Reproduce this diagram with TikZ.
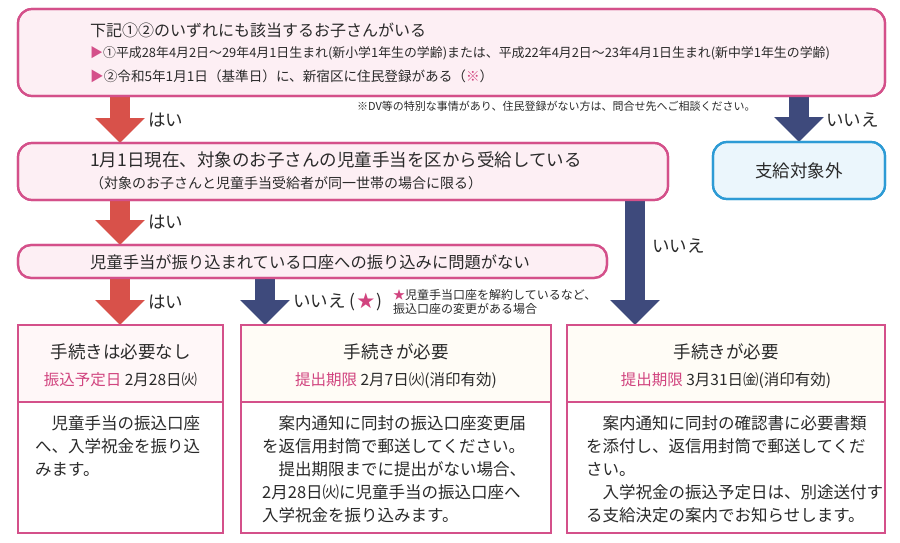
\documentclass[tikz,border=0pt]{standalone}
\usepackage{fontspec}
\setmainfont{Noto Sans CJK JP}
\usetikzlibrary{arrows.meta,calc}
\definecolor{pk}{HTML}{D4508A}
\definecolor{pkfill}{HTML}{FDEFF4}
\definecolor{pktext}{HTML}{D1447F}
\definecolor{redarr}{HTML}{D8514A}
\definecolor{navy}{HTML}{3E4A7C}
\definecolor{bl}{HTML}{2D9BD5}
\definecolor{blfill}{HTML}{EBF6FC}
\definecolor{hdA}{HTML}{FFF7F8}
\definecolor{hdB}{HTML}{FFFCF6}
\definecolor{tx}{HTML}{2A2A2A}
\newcommand\fsz[1]{\fontsize{#1}{#1}\selectfont}
\begin{document}
\begin{tikzpicture}[x=1pt,y=-1pt,
  box/.style={draw=pk, line width=2.2pt, anchor=north west, inner sep=0pt, outer sep=0pt},
  rbox/.style={box, rounded corners=14pt, fill=pkfill},
  txt/.style={anchor=west, inner sep=0pt, text=tx},
  ctxt/.style={anchor=center, inner sep=0pt, text=tx},
  lbl/.style={txt, font=\fsz{17.5}},
  body/.style={txt, font=\fsz{16.5}},
  arrowbase/.style={line width=20pt, -{Triangle[width=48pt,length=25pt]}},
  redar/.style={arrowbase, draw=redarr, fill=redarr},
  navyar/.style={arrowbase, draw=navy, fill=navy}
]
\useasboundingbox[fill=white] (0,0) rectangle (900,543);

% column coordinates for arrows
\coordinate (cx1) at (120,0);
\coordinate (cx2) at (265,0);
\coordinate (cx3) at (635,0);
\coordinate (cx4) at (799,0);

% boxes (shapes only)
\path (18,9) node[rbox, minimum width=867pt, minimum height=87pt] (b1) {};
\path (18,143) node[rbox, minimum width=650pt, minimum height=57pt] (b2) {};
\path (713,142) node[box, rounded corners=14pt, draw=bl, fill=blfill, minimum width=172pt, minimum height=57pt] (bx) {};
\path (18,245) node[rbox, rounded corners=13pt, minimum width=589pt, minimum height=33pt] (b3) {};

\path (18,325) node[box, fill=hdA, minimum width=205pt, minimum height=77pt] (hA) {};
\path (241,325) node[box, fill=hdB, minimum width=310pt, minimum height=77pt] (hB) {};
\path (567,325) node[box, fill=hdB, minimum width=318pt, minimum height=77pt] (hC) {};

% arrows
\draw[redar] (b1.south -| cx1) -- (b2.north -| cx1);
\draw[navyar] (b1.south -| cx4) -- (bx.north -| cx4);
\draw[redar] (b2.south -| cx1) -- (b3.north -| cx1);
\draw[navyar] (b2.south -| cx3) -- (hC.north -| cx3);
\draw[redar] (b3.south -| cx1) -- (hA.north -| cx1);
\draw[navyar] (b3.south -| cx2) -- (hB.north -| cx2);

% redraw box borders over arrow ends
\path (18,9) node[box, rounded corners=14pt, minimum width=867pt, minimum height=87pt] {};
\path (18,143) node[box, rounded corners=14pt, minimum width=650pt, minimum height=57pt] {};
\path (18,245) node[box, rounded corners=13pt, minimum width=589pt, minimum height=33pt] {};
\path (713,142) node[box, rounded corners=14pt, draw=bl, minimum width=172pt, minimum height=57pt] {};
\path (18,325) node[box, minimum width=205pt, minimum height=77pt] {};
\path (241,325) node[box, minimum width=310pt, minimum height=77pt] {};
\path (567,325) node[box, minimum width=318pt, minimum height=77pt] {};

\node[box, fill=white, minimum width=205pt, minimum height=131pt] (bA) at (hA.south west) {};
\node[box, fill=white, minimum width=310pt, minimum height=131pt] (bB) at (hB.south west) {};
\node[box, fill=white, minimum width=318pt, minimum height=131pt] (bC) at (hC.south west) {};

% box 1 text
\node[txt, font=\fsz{16}] (t11) at (90,30) {下記①②のいずれにも該当するお子さんがいる};
\node[txt, font=\fsz{12.9}] (t12) at (90,53) {\textcolor{pk}{▶}①平成28年4月2日～29年4月1日生まれ(新小学1年生の学齢)または、平成22年4月2日～23年4月1日生まれ(新中学1年生の学齢)};
\node[txt, font=\fsz{13.6}] (t13) at (90,76) {\textcolor{pk}{▶}②令和5年1月1日（基準日）に、新宿区に住民登録がある（\textcolor{pktext}{※}）};
\node[txt, font=\fsz{11}] (note1) at (357,106) {※DV等の特別な事情があり、住民登録がない方は、問合せ先へご相談ください。};

% box 2 text
\node[txt, font=\fsz{17.5}] (t21) at (90,160) {1月1日現在、対象のお子さんの児童手当を区から受給している};
\node[txt, font=\fsz{14}] (t22) at (90,183) {（対象のお子さんと児童手当受給者が同一世帯の場合に限る）};

% not eligible
\node[ctxt, font=\fsz{17.5}] (tx) at (bx.center) {支給対象外};

% box 3 text
\node[txt, font=\fsz{16.3}] (t31) at (90,262) {児童手当が振り込まれている口座への振り込みに問題がない};

% arrow labels
\node[lbl] (l1) at (148,120) {はい};
\node[lbl] (l2) at (826,120) {いいえ};
\node[lbl] (l3) at (148,222) {はい};
\node[lbl] (l4) at (652,246) {いいえ};
\node[lbl] (l5) at (148,302) {はい};
\node[lbl] (l6) at (293,302) {いいえ\hspace{4pt}(\hspace{1.5pt}\textcolor{pktext}{★}\hspace{1.5pt})};
\node[txt, font=\fsz{12}] (n2a) at (393,295) {\textcolor{pktext}{★}児童手当口座を解約しているなど、};
\node[txt, font=\fsz{12}] (n2b) at (393,309) {振込口座の変更がある場合};

% headers
\node[ctxt, font=\fsz{17.5}] (hAt) at ($(hA.north)+(0,27)$) {手続きは必要なし};
\node[ctxt, font=\fsz{15.5}] (hAs) at ($(hA.north)+(0,55)$) {\textcolor{pktext}{振込予定日} 2月28日㈫};
\node[ctxt, font=\fsz{17.5}] (hBt) at ($(hB.north)+(0,27)$) {手続きが必要};
\node[ctxt, font=\fsz{15.5}] (hBs) at ($(hB.north)+(0,55)$) {\textcolor{pktext}{提出期限} 2月7日㈫(消印有効)};
\node[ctxt, font=\fsz{17.5}] (hCt) at ($(hC.north)+(0,27)$) {手続きが必要};
\node[ctxt, font=\fsz{15.5}] (hCs) at ($(hC.north)+(0,55)$) {\textcolor{pktext}{提出期限} 3月31日㈮(消印有効)};

% bodies
\node[body] (a1) at (35,423) {　児童手当の振込口座};
\node[body] (a2) at (35,446) {へ、入学祝金を振り込};
\node[body] (a3) at (35,469) {みます。};

\node[body] (c1) at (262,423) {　案内通知に同封の振込口座変更届};
\node[body] (c2) at (262,446) {を返信用封筒で郵送してください。};
\node[body] (c3) at (262,469) {　提出期限までに提出がない場合、};
\node[body] (c4) at (262,492) {2月28日㈫に児童手当の振込口座へ};
\node[body] (c5) at (262,515) {入学祝金を振り込みます。};

\node[body] (d1) at (586,423) {　案内通知に同封の確認書に必要書類};
\node[body] (d2) at (586,446) {を添付し、返信用封筒で郵送してくだ};
\node[body] (d3) at (586,469) {さい。};
\node[body] (d4) at (586,492) {　入学祝金の振込予定日は、別途送付す};
\node[body] (d5) at (586,515) {る支給決定の案内でお知らせします。};
\end{tikzpicture}
\end{document}
